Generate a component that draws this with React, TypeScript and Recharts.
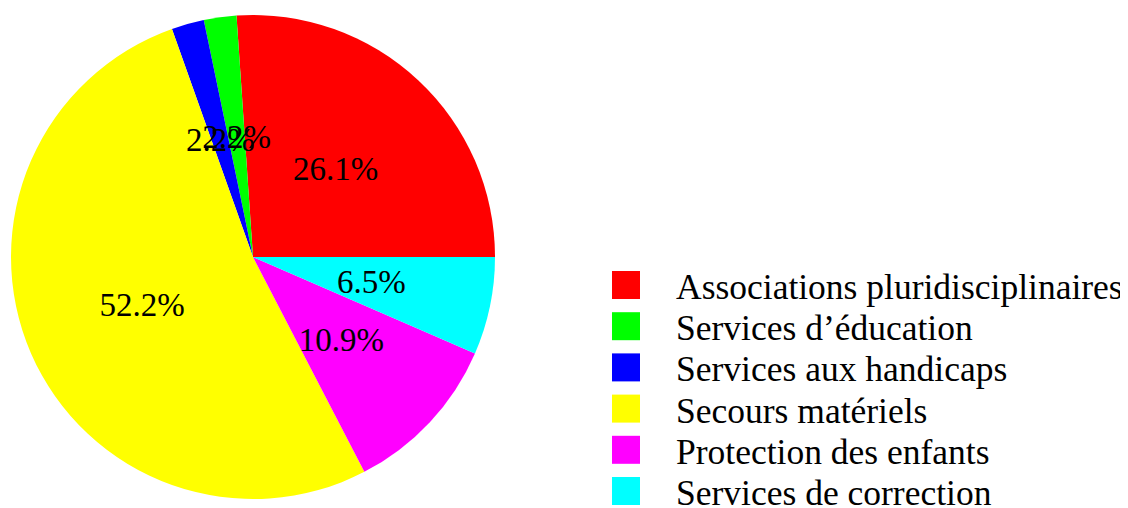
import React from "react";
import { PieChart, Pie, Cell, Legend } from "recharts";

const categories = [
  "Associations pluridisciplinaires",
  "Services d’éducation",
  "Services aux handicaps",
  "Secours matériels",
  "Protection des enfants",
  "Services de correction",
];
const counts = [12, 1, 1, 24, 5, 3];
const colors = ["#ff0000", "#00ff00", "#0000ff", "#ffff00", "#ff00ff", "#00ffff"];

const data = categories.map((name, i) => ({ name, value: counts[i] }));

const FONT = "Liberation Serif, serif";
const RAD = Math.PI / 180;

const renderLabel = (props: any) => {
  const { cx, cy, midAngle, outerRadius, percent } = props;
  const r = outerRadius * 0.5;
  const x = cx + r * Math.cos(-midAngle * RAD);
  const y = cy + r * Math.sin(-midAngle * RAD);
  return (
    <text
      x={x}
      y={y}
      textAnchor="middle"
      dominantBaseline="central"
      fill="#000"
      style={{ fontFamily: FONT, fontSize: 33 }}
    >
      {(percent * 100).toFixed(1) + "%"}
    </text>
  );
};

const LegendContent = () => (
  <svg width={520} height={245} style={{ display: "block", overflow: "visible" }}>
    {categories.map((c, i) => {
      const top = i * 41.2;
      return (
        <g key={c}>
          <rect x={0} y={top} width={28} height={28} fill={colors[i]} />
          <text
            x={64}
            y={top + 28}
            fill="#000"
            style={{ fontFamily: FONT, fontSize: 35.5 }}
          >
            {c}
          </text>
        </g>
      );
    })}
  </svg>
);

export default function App() {
  return (
    <div style={{ width: 1112, height: 500, position: "relative" }}>
      <PieChart width={1112} height={500} margin={{ top: 0, right: 0, bottom: 0, left: 0 }}>
        <Pie
          data={data}
          dataKey="value"
          nameKey="name"
          cx={245}
          cy={249}
          outerRadius={242}
          startAngle={0}
          endAngle={360}
          stroke="none"
          labelLine={false}
          label={renderLabel}
          isAnimationActive={false}
        >
          {data.map((d, i) => (
            <Cell key={d.name} fill={colors[i]} />
          ))}
        </Pie>
        <Legend
          content={<LegendContent />}
          wrapperStyle={{ position: "absolute", left: 604, top: 263, width: 520, height: 245 }}
        />
      </PieChart>
    </div>
  );
}
